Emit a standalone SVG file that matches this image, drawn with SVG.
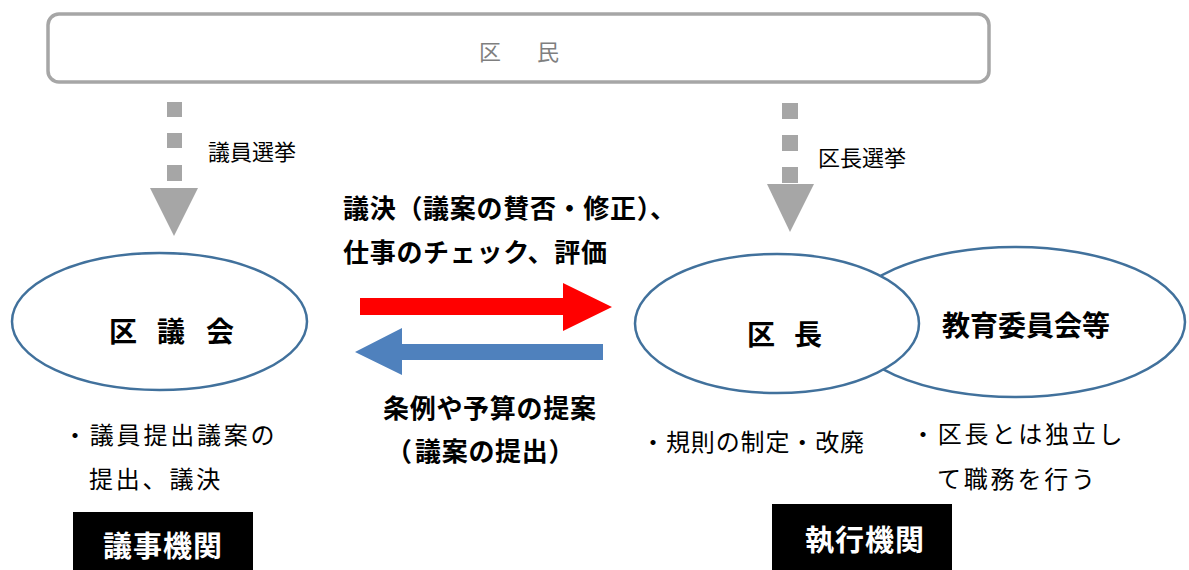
<svg xmlns="http://www.w3.org/2000/svg" width="1189" height="570" viewBox="0 0 1189 570">
<style>
  text { font-family: "Noto Sans CJK JP", "Noto Sans", sans-serif; fill: #000; text-spacing-trim: space-all; }
  .ell { fill: #fff; stroke: #41719c; stroke-width: 2.5; }
  .gray { fill: #a6a6a6; }
  .lbl { font-size: 22px; }
  .mid { font-size: 26px; font-weight: bold; letter-spacing: 0.7px; }
  .big { font-size: 28px; font-weight: bold; }
  .note { font-size: 24px; letter-spacing: 2.8px; }
  .tag { font-size: 29px; font-weight: bold; fill: #fff; letter-spacing: 1px; }
</style>
<rect width="1189" height="570" fill="#fff"/>

<g id="kumin">
  <rect x="48" y="14" width="941" height="68" rx="11" fill="#fff" stroke="#a6a6a6" stroke-width="3.5"/>
  <text x="479 537" y="60" font-size="22" style="fill:#7f7f7f">区民</text>
</g>

<g id="connectors">
  <g id="elect-left">
    <rect class="gray" x="167" y="102" width="15" height="15"/>
    <rect class="gray" x="167" y="133" width="15" height="15"/>
    <rect class="gray" x="167" y="165" width="15" height="16"/>
    <polygon class="gray" points="150,188 198,188 174,236"/>
    <text class="lbl" x="208" y="160">議員選挙</text>
  </g>
  <g id="elect-right">
    <rect class="gray" x="782" y="103" width="16" height="16"/>
    <rect class="gray" x="782" y="135" width="16" height="16"/>
    <rect class="gray" x="782" y="167" width="16" height="16"/>
    <polygon class="gray" points="767,184 814,184 790,232"/>
    <text class="lbl" x="818" y="166">区長選挙</text>
  </g>
  <g id="arrow-red">
    <polygon fill="#ff0000" points="360,298 563,298 563,283 612,307 563,331 563,315 360,315"/>
    <text class="mid" x="343 369.7 396.4 423.1 449.8 476.5 503.2 529.9 556.6 583.3 610 636.7 650" y="218">議決（議案の賛否・修正）、</text>
    <text class="mid" x="343" y="262">仕事のチェック、評価</text>
  </g>
  <g id="arrow-blue">
    <polygon fill="#4f81bd" points="603,344 402,344 402,328 355,352 402,375 402,360 603,360"/>
    <text class="mid" x="383" y="418">条例や予算の提案</text>
    <text class="mid" x="386 415" y="461">（議案の提出）</text>
  </g>
</g>

<g id="kugikai">
  <ellipse class="ell" cx="159.5" cy="321.5" rx="147.5" ry="68.5"/>
  <text class="big" x="109 157 206" y="342">区議会</text>
  <text class="note" x="63" y="444" letter-spacing="3">・議員提出議案の</text>
  <text class="note" x="89" y="488" letter-spacing="3">提出、議決</text>
</g>

<g id="kyouiku">
  <ellipse class="ell" cx="1015" cy="322" rx="170" ry="75"/>
  <text class="big" x="942" y="336" font-size="29.5" letter-spacing="0">教育委員会等</text>
  <text class="note" x="911" y="443">・区長とは独立し</text>
  <text class="note" x="937" y="488">て職務を行う</text>
</g>

<g id="kuchou">
  <ellipse class="ell" cx="777" cy="323.5" rx="142" ry="69.5"/>
  <text class="big" x="747 794" y="345">区長</text>
  <text font-size="24" x="641" y="451" textLength="223" lengthAdjust="spacing">・規則の制定・改廃</text>
</g>

<g id="gijikikan">
  <rect x="73" y="512" width="180" height="60" fill="#000"/>
  <text class="tag" x="103" y="557">議事機関</text>
</g>

<g id="shikkoukikan">
  <rect x="772" y="504" width="180" height="68" fill="#000"/>
  <text class="tag" x="805" y="551">執行機関</text>
</g>
</svg>
